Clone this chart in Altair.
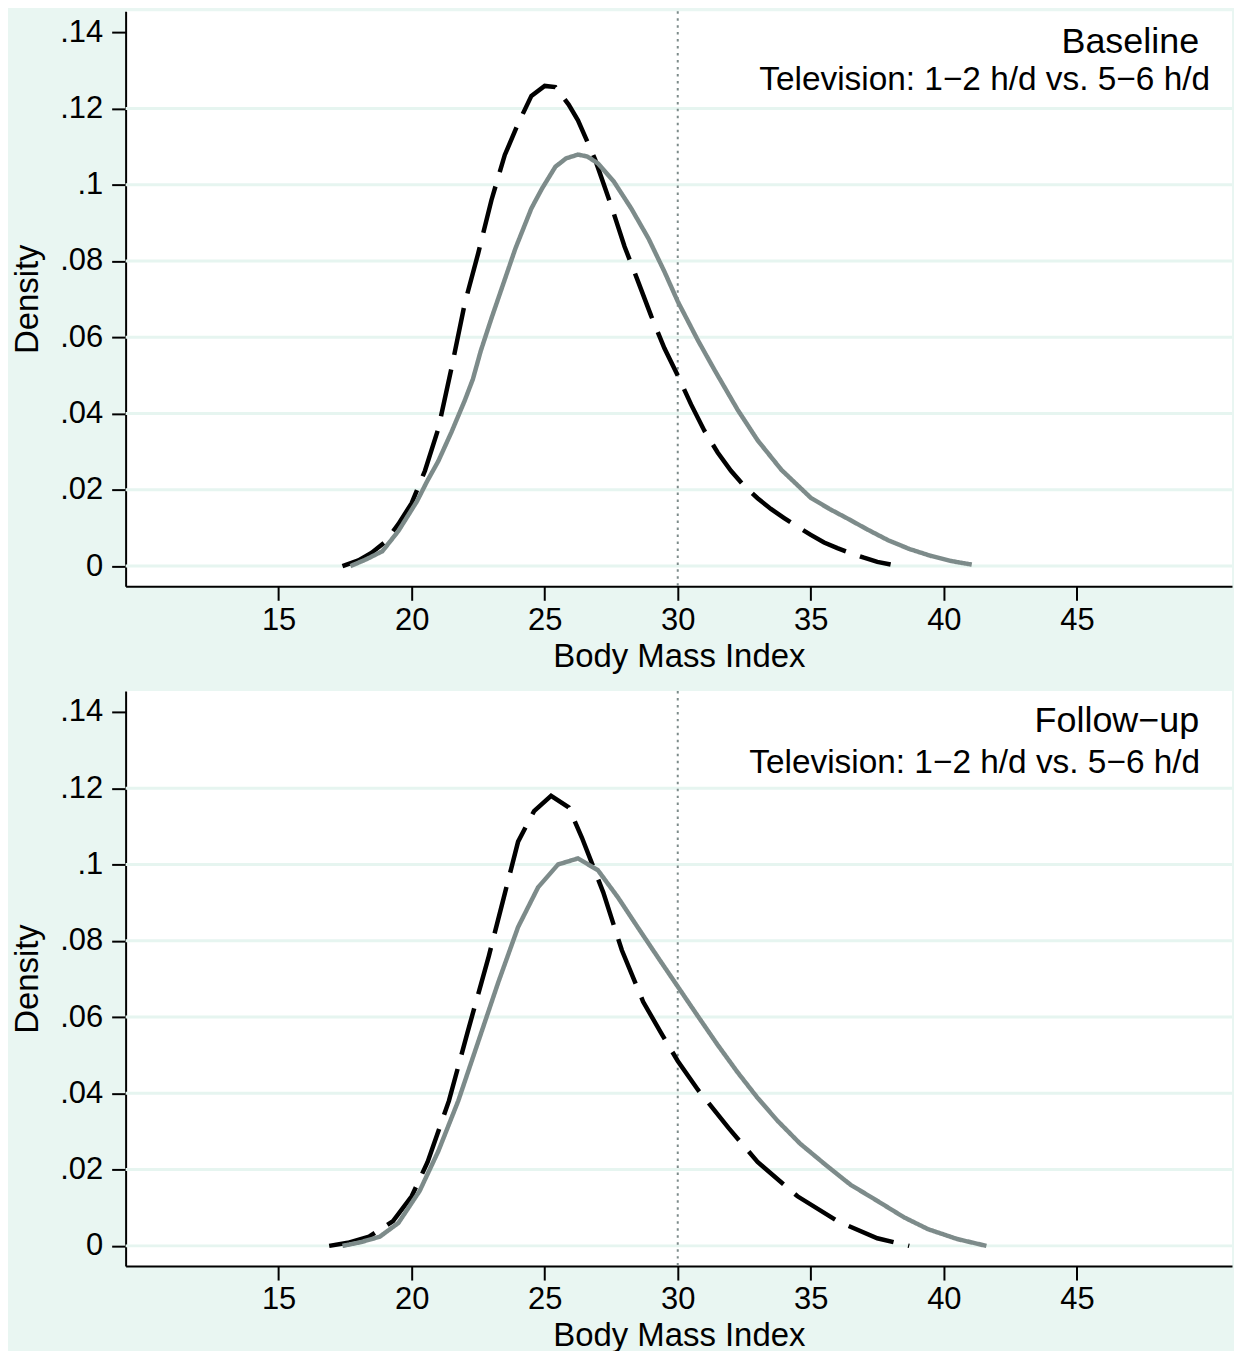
import altair as alt
import pandas as pd

# ---------------- data ----------------
# Baseline panel, 1-2 h/d (black dashed)
base_low_x = [17.4, 18.0, 18.5, 19.0, 19.5, 20.0, 20.5, 21.0, 21.5, 22.0, 22.5, 23.0, 23.5, 24.0, 24.5,
              25.0, 25.4, 25.9, 26.25, 26.9, 27.5, 28.0, 28.5, 29.0, 29.5, 30.0, 30.5, 31.0, 31.5, 32.0,
              32.5, 33.0, 33.5, 34.0, 34.5, 35.0, 35.5, 36.0, 36.5, 37.0, 37.5, 38.0]
base_low_y = [0.000, 0.0015, 0.0035, 0.0063, 0.0110, 0.0165, 0.0250, 0.0360, 0.0520, 0.0690, 0.0820,
              0.0960, 0.1078, 0.1160, 0.1233, 0.1259, 0.1256, 0.1210, 0.1169, 0.1065, 0.0945, 0.0838,
              0.0748, 0.0656, 0.0571, 0.0500, 0.0424, 0.0355, 0.0298, 0.0250, 0.0210, 0.0178, 0.0150,
              0.0126, 0.0103, 0.0082, 0.0062, 0.0047, 0.0034, 0.0022, 0.0011, 0.0004]
# Baseline panel, 5-6 h/d (grey solid)
base_high_x = [17.7, 18.3, 18.9, 19.5, 20.2, 20.6, 21.0, 21.5, 22.0, 22.3, 22.6, 23.0, 23.3, 23.9, 24.5,
               24.9, 25.4, 25.8, 26.25, 26.6, 27.0, 27.6, 28.25, 28.9, 29.5, 30.0, 30.75, 31.4, 32.25,
               33.0, 33.9, 35.0, 35.7, 36.4, 37.1, 37.9, 38.7, 39.5, 40.3, 41.05]
base_high_y = [0.000, 0.0018, 0.0039, 0.0092, 0.0170, 0.0225, 0.0275, 0.0352, 0.0435, 0.0490, 0.0565,
               0.0650, 0.0711, 0.0833, 0.0938, 0.0990, 0.1047, 0.1069, 0.1079, 0.1074, 0.1056, 0.1008,
               0.0938, 0.0859, 0.0772, 0.0694, 0.0593, 0.0512, 0.0410, 0.0330, 0.0252, 0.0179, 0.0150,
               0.0124, 0.0097, 0.0068, 0.0045, 0.0027, 0.0013, 0.0004]
# Follow-up panel, 1-2 h/d (black dashed)
fu_low_x = [16.9, 17.6, 18.4, 19.3, 20.0, 20.6, 21.4, 22.1, 22.9, 23.45, 24.0, 24.6, 25.24, 25.9, 26.4,
            27.2, 27.9, 28.7, 29.4, 30.0, 30.75, 31.9, 33.0, 34.5, 36.0, 37.5, 38.7]
fu_low_y = [0.000, 0.0008, 0.0024, 0.0065, 0.0130, 0.0220, 0.0380, 0.0560, 0.0760, 0.0910, 0.1060,
            0.1140, 0.1180, 0.1150, 0.1070, 0.0927, 0.0775, 0.0640, 0.0555, 0.0485, 0.0410, 0.0310,
            0.0220, 0.0130, 0.0065, 0.0020, 0.0000]
# Follow-up panel, 5-6 h/d (grey solid)
fu_high_x = [17.4, 18.1, 18.8, 19.5, 20.3, 21.0, 21.75, 22.5, 23.25, 24.0, 24.75, 25.5, 26.25, 27.0,
             27.75, 28.5, 29.25, 30.0, 30.75, 31.5, 32.25, 33.0, 33.75, 34.6, 35.6, 36.5, 37.5, 38.5,
             39.4, 40.5, 41.6]
fu_high_y = [0.000, 0.0010, 0.0024, 0.0060, 0.0144, 0.0248, 0.0380, 0.0535, 0.0690, 0.0836, 0.0940,
             0.1000, 0.1016, 0.0985, 0.0914, 0.0835, 0.0757, 0.0680, 0.0603, 0.0527, 0.0455, 0.0388,
             0.0328, 0.0268, 0.0210, 0.0160, 0.0118, 0.0075, 0.0044, 0.0018, 0.0000]

series_names = ["1\u22122 h/d", "5\u22126 h/d"]
x_ticks = [15, 20, 25, 30, 35, 40, 45]
y_ticks = [0, 0.02, 0.04, 0.06, 0.08, 0.1, 0.12, 0.14]
grid_vals = [0, 0.02, 0.04, 0.06, 0.08, 0.1, 0.12]
ref_line = [30]
panel_titles = ["Baseline", "Follow\u2212up"]
panel_subtitle = "Television: 1\u22122 h/d vs. 5\u22126 h/d"

# ---------------- styling ----------------
FONT = "Liberation Sans"
TEAL = "#e9f6f2"
GREY = "#7d8b8a"
W, H = 1110, 577
X_DOM = [9.25, 50.83]
Y_DOM = [-0.0053, 0.1455]

X_AXIS = alt.Axis(values=x_ticks, format="d", title="Body Mass Index",
                  labelPadding=5, titlePadding=5)
Y_AXIS = alt.Axis(values=y_ticks, title="Density", labelPadding=9, titlePadding=15,
                  labelExpr="datum.value == 0 ? '0' : substring(format(datum.value, '.2~f'), 1)")


def frame(xs, ys, name):
    return pd.DataFrame({"bmi": xs, "density": ys, "series": name})


def panel(low, high, title, title_y, sub_x, sub_y):
    df = pd.concat([frame(low[0], low[1], series_names[0]),
                    frame(high[0], high[1], series_names[1])], ignore_index=True)
    xs = alt.Scale(domain=X_DOM, nice=False, zero=False)
    ys = alt.Scale(domain=Y_DOM, nice=False, zero=False)

    grid = alt.Chart(pd.DataFrame({"g": grid_vals})).mark_rule(
        color="#e6f5f0", strokeWidth=3
    ).encode(y=alt.Y("g:Q", scale=ys, axis=Y_AXIS))

    vline = alt.Chart(pd.DataFrame({"v": ref_line})).mark_rule(
        color=GREY, strokeWidth=2, strokeDash=[2.5, 4.5]
    ).encode(x=alt.X("v:Q", scale=xs, axis=X_AXIS))

    lines = alt.Chart(df).mark_line(strokeWidth=4.5, strokeCap="butt").encode(
        x=alt.X("bmi:Q", scale=xs, axis=X_AXIS),
        y=alt.Y("density:Q", scale=ys, axis=Y_AXIS),
        color=alt.Color("series:N", scale=alt.Scale(domain=series_names, range=["#000000", GREY]),
                        legend=None),
        strokeDash=alt.StrokeDash("series:N",
                                  scale=alt.Scale(domain=series_names, range=[[48, 15], [1, 0]]),
                                  legend=None),
        order=alt.Order("bmi:Q"),
    )

    t1 = alt.Chart(pd.DataFrame({"t": [title]})).mark_text(
        align="right", baseline="alphabetic", font=FONT, fontSize=36, color="black"
    ).encode(text="t:N", x=alt.value(1077), y=alt.value(title_y))

    t2 = alt.Chart(pd.DataFrame({"t": [panel_subtitle]})).mark_text(
        align="right", baseline="alphabetic", font=FONT, fontSize=33.5, color="black"
    ).encode(text="t:N", x=alt.value(sub_x), y=alt.value(sub_y))

    return alt.layer(grid, vline, lines, t1, t2).properties(width=W, height=H)


p1 = panel((base_low_x, base_low_y), (base_high_x, base_high_y), panel_titles[0], 42, 1088, 79)
p2 = panel((fu_low_x, fu_low_y), (fu_high_x, fu_high_y), panel_titles[1], 41, 1078, 82)

chart = alt.vconcat(p1, p2, spacing=17).properties(
    background=TEAL,
    padding={"left": 3, "top": 0, "right": 0, "bottom": 0},
).configure_view(fill="white", strokeWidth=0).configure_axis(
    domainColor="black", domainWidth=2, tickColor="black", tickWidth=2, tickSize=14,
    labelColor="black", titleColor="black", labelFont=FONT, titleFont=FONT,
    labelFontSize=31, titleFontSize=33, titleFontWeight="normal", grid=False,
)

chart.save("out.html", embed_options={"renderer": "svg", "actions": False})
